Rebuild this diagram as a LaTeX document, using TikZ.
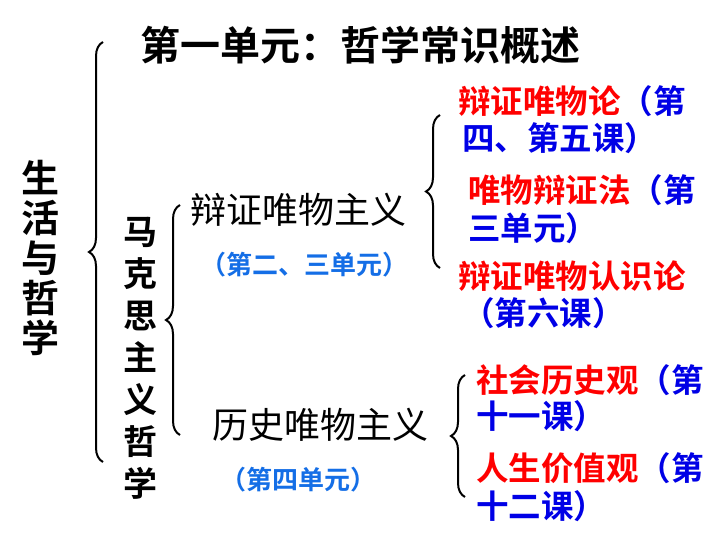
\documentclass[tikz,border=0pt]{standalone}
\usepackage{fontspec}
\usetikzlibrary{decorations.pathreplacing}
\setmainfont{Noto Sans CJK SC}[BoldFont={* Bold}]
\newfontfamily\cjk{Noto Sans CJK SC}[BoldFont={* Bold}]
\definecolor{myblue}{RGB}{0,0,230}
\definecolor{lblue}{RGB}{20,110,230}
\begin{document}
\begin{tikzpicture}[x=1pt,y=-1pt,
  brc/.style={draw,line width=2pt,decorate,decoration={brace,amplitude=14pt,aspect=0.5}},
  big/.style={font=\fontsize{40}{42}\selectfont\bfseries,inner sep=0pt},
  mid/.style={font=\fontsize{36}{38}\selectfont,inner sep=0pt,anchor=west},
  sm/.style={font=\fontsize{26}{28}\selectfont\bfseries,inner sep=0pt,anchor=west,text=lblue},
  rt/.style={font=\fontsize{32.5}{34}\selectfont\bfseries,inner sep=0pt,anchor=west}]
\useasboundingbox (0,0) rectangle (720,540);
\node[big,align=center,font=\fontsize{38}{40}\selectfont\bfseries] (life) at (40,258) {生\\活\\与\\哲\\学};
\coordinate (b1t) at (103,42); \coordinate (b1b) at (103,462);
\draw[brc] (b1b) -- (b1t);
\node[big,anchor=west] (u1) at (140,45) {第一单元：哲学常识概述};
\node[big,align=center,font=\fontsize{34}{42}\selectfont\bfseries] (mk) at (140,358) {马\\克\\思\\主\\义\\哲\\学};
\coordinate (b2t) at (180,205); \coordinate (b2b) at (180,435);
\draw[brc] (b2b) -- (b2t);
\node[mid] (bz) at (190,210) {辩证唯物主义};
\node[sm] (bz2) at (200,265) {（第二、三单元）};
\node[mid] (ls) at (212,425) {历史唯物主义};
\node[sm] (ls2) at (220,480) {（第四单元）};
\coordinate (b3t) at (440,115); \coordinate (b3b) at (440,268);
\draw[brc] (b3b) -- (b3t);
\coordinate (b4t) at (465,375); \coordinate (b4b) at (465,497);
\draw[brc] (b4b) -- (b4t);
\node[rt] (r1) at (458,101) {\textcolor{red}{辩证唯物论}\textcolor{myblue}{（第}};
\node[rt,text=myblue] (r1b) at (462,138) {四、第五课）};
\node[rt] (r2) at (468,190) {\textcolor{red}{唯物辩证法}\textcolor{myblue}{（第}};
\node[rt,text=myblue] (r2b) at (468,228) {三单元）};
\node[rt,text=red] (r3) at (458,276) {辩证唯物认识论};
\node[rt,text=myblue] (r3b) at (462,313) {（第六课）};
\node[rt] (r4) at (476,380) {\textcolor{red}{社会历史观}\textcolor{myblue}{（第}};
\node[rt,text=myblue] (r4b) at (476,416) {十一课）};
\node[rt] (r5) at (476,468) {\textcolor{red}{人生价值观}\textcolor{myblue}{（第}};
\node[rt,text=myblue] (r5b) at (476,506) {十二课）};
\end{tikzpicture}
\end{document}
